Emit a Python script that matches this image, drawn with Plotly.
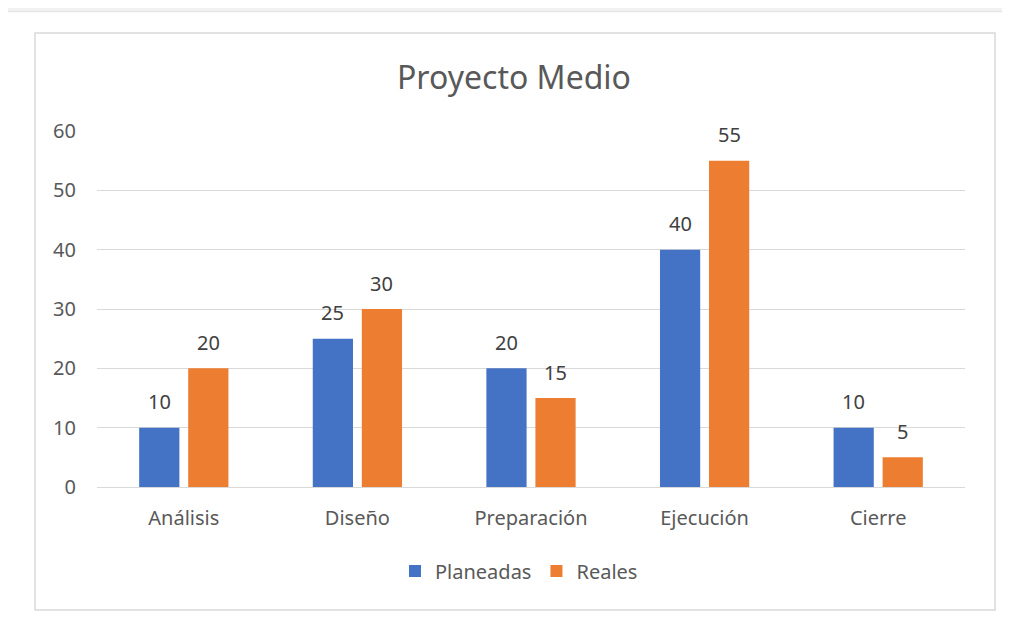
import plotly.graph_objects as go

categories = ["Análisis", "Diseño", "Preparación", "Ejecución", "Cierre"]
planeadas = [10, 25, 20, 40, 10]
reales = [20, 30, 15, 55, 5]
series_names = ["Planeadas", "Reales"]
colors = ["#4472C4", "#ED7D31"]
y_ticks = [0, 10, 20, 30, 40, 50, 60]

OFF = 8  # page body margin
W, H = 1002, 610
L, R, T, B = 89, 45, 123, 131
pw, ph = W - L - R, H - T - B

def px_x(px):  # page px -> paper x
    return (px - OFF - L) / pw

def px_y(py):  # page px -> paper y
    return (H - B - (py - OFF)) / ph

font_family = "Noto Sans, Open Sans, sans-serif"
txt = "#595959"

fig = go.Figure()
for name, vals, col in zip(series_names, [planeadas, reales], colors):
    fig.add_trace(go.Bar(x=categories, y=vals, name=name, marker_color=col,
                         marker_line_width=0))

annotations = []
for i, vals in enumerate([planeadas, reales]):
    shift = -24.5 if i == 0 else 24.5
    for c, v in zip(categories, vals):
        annotations.append(dict(x=c, y=v, xref="x", yref="y", text=str(v),
                                showarrow=False, xshift=shift, yshift=26,
                                yanchor="middle",
                                font=dict(size=20, color="#404040", family=font_family)))

shapes = [
    # top grey band
    dict(type="rect", xref="paper", yref="paper", x0=px_x(OFF), x1=px_x(OFF + W),
         y0=px_y(OFF), y1=px_y(11), fillcolor="#f2f2f2", line_width=0, layer="below"),
    dict(type="line", xref="paper", yref="paper", x0=px_x(OFF), x1=px_x(OFF + W),
         y0=px_y(11.5), y1=px_y(11.5), line=dict(color="#e6e6e6", width=1.5)),
    # chart border
    dict(type="rect", xref="paper", yref="paper", x0=px_x(35), x1=px_x(995),
         y0=px_y(610), y1=px_y(33), line=dict(color="#d9d9d9", width=1.5),
         fillcolor="rgba(0,0,0,0)"),
]

fig.update_layout(
    width=W, height=H,
    margin=dict(l=L, r=R, t=T, b=B),
    paper_bgcolor="white", plot_bgcolor="white",
    barmode="group", bargap=0.435, bargroupgap=0.18,
    title=dict(text="Proyecto Medio", x=(514 - OFF) / W, xanchor="center",
               y=1 - (78 - OFF) / H, yanchor="middle", yref="container",
               font=dict(size=32, color=txt, family=font_family)),
    font=dict(family=font_family, color=txt, size=20),
    showlegend=True,
    legend=dict(orientation="h", x=px_x(519), xanchor="center", y=px_y(571),
                yanchor="middle", font=dict(size=20, color=txt), itemwidth=30,
                traceorder="normal"),
    annotations=annotations,
    shapes=shapes,
)
fig.update_xaxes(showgrid=False, showline=True, linecolor="#d9d9d9", linewidth=1,
                 ticks="", ticklabelstandoff=13, tickfont=dict(size=20, color=txt))
fig.update_yaxes(range=[0, 60], tickvals=y_ticks, showgrid=True, gridcolor="#d9d9d9",
                 gridwidth=1, zeroline=False, showline=False, ticks="",
                 ticklabelstandoff=20, tickfont=dict(size=20, color=txt))

fig.write_html("out.html")
